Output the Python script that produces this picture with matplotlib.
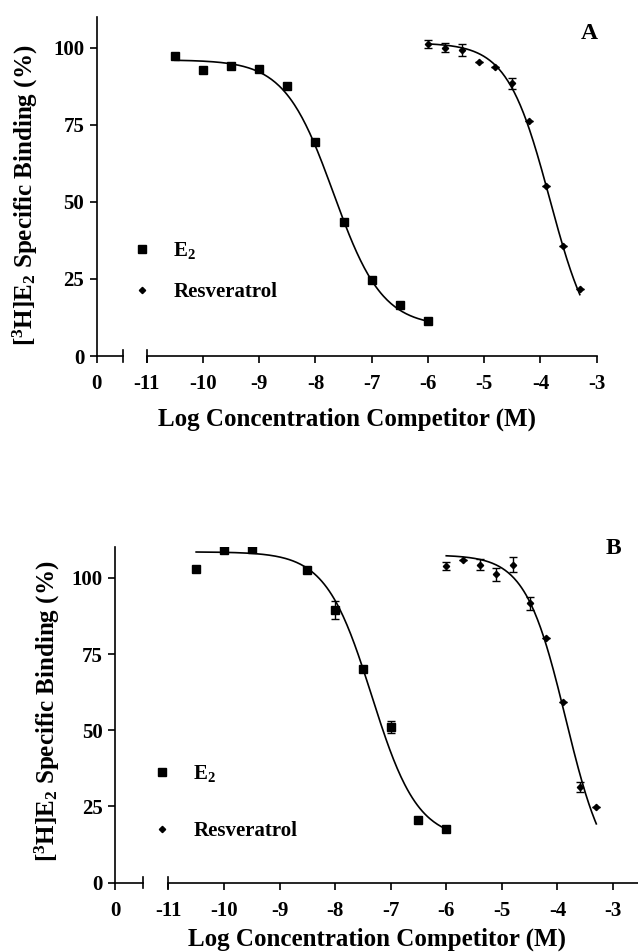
import numpy as np
import matplotlib
matplotlib.use("Agg")
import matplotlib.pyplot as plt

plt.rcParams['font.family'] = ['Liberation Serif', 'DejaVu Serif']
plt.rcParams['font.weight'] = 'bold'
plt.rcParams['mathtext.fontset'] = 'custom'
plt.rcParams['mathtext.rm'] = 'Liberation Serif:bold'
plt.rcParams['mathtext.it'] = 'Liberation Serif:bold'
plt.rcParams['mathtext.bf'] = 'Liberation Serif:bold'

# ---- panel A data (log M, % specific binding) ----
a_e2_x = [-10.5, -10, -9.5, -9, -8.5, -8, -7.5, -7, -6.5, -6]
a_e2_y = [97.4, 92.8, 94.0, 93.1, 87.4, 69.3, 43.6, 24.7, 16.5, 11.4]
a_res_x = [-6, -5.7, -5.4, -5.1, -4.8, -4.5, -4.2, -3.9, -3.6, -3.3]
a_res_y = [101.1, 100.0, 99.3, 95.2, 93.8, 88.4, 76.3, 55.2, 35.5, 21.8]
a_res_err = [1.2, 1.5, 2.0, 0, 0, 1.7, 0, 0, 0, 0]
# fitted curve params: top, bottom, logIC50, hill
a_e2_fit = (96.0, 9.5, -7.68, 1.0)
a_res_fit = (101.5, 0.0, -3.833, 1.15)

# ---- panel B data ----
b_e2_x = [-10.5, -10, -9.5, -8.5, -8, -7.5, -7, -6.5, -6]
b_e2_y = [103.0, 109.0, 109.6, 102.5, 89.4, 70.2, 51.1, 20.6, 17.5]
b_e2_err = [0, 0, 0, 0, 2.9, 0, 2.0, 0, 0]
b_res_x = [-6, -5.7, -5.4, -5.1, -4.8, -4.5, -4.2, -3.9, -3.6, -3.3]
b_res_y = [103.8, 105.8, 104.3, 101.1, 104.3, 91.6, 80.3, 59.2, 31.4, 24.8]
b_res_err = [1.4, 0, 1.9, 2.2, 2.5, 2.1, 0, 0, 1.5, 0]
b_e2_fit = (108.5, 14.0, -7.34, 1.05)
b_res_fit = (107.5, 0.0, -3.85, 1.2)

xtick_vals = [-11, -10, -9, -8, -7, -6, -5, -4, -3]
ytick_vals = [0, 25, 50, 75, 100]


def logistic(x, p):
    top, bottom, c, h = p
    return bottom + (top - bottom) / (1 + 10 ** ((x - c) * h))


def draw_panel(ax, e2x, e2y, e2err, rx, ry, rerr, e2fit, rfit,
               x0, xbreak, xright, letter, letter_xy, leg_anchor,
               leg_spacing, xlabelpad, ylabel_xy):
    lw = 1.2
    xs = np.linspace(min(e2x), max(e2x), 200)
    ax.plot(xs, logistic(xs, e2fit), color='black', lw=lw)
    xs = np.linspace(min(rx), max(rx), 200)
    ax.plot(xs, logistic(xs, rfit), color='black', lw=lw)

    ax.errorbar(e2x, e2y, yerr=e2err, fmt='s', color='black', ms=5.5,
                capsize=3, elinewidth=1.0, capthick=1.0, label='E$_2$')
    ax.errorbar(rx, ry, yerr=rerr, fmt='D', color='black', ms=3.2,
                capsize=3, elinewidth=1.0, capthick=1.0, label='Resveratrol')

    ax.set_xlim(x0, xright)
    ax.set_ylim(0, 110)
    for s in ['top', 'right', 'bottom']:
        ax.spines[s].set_visible(False)
    ax.spines['left'].set_linewidth(lw)

    # broken x axis
    ax.plot([x0, xbreak], [0, 0], color='black', lw=lw, clip_on=False)
    ax.plot([-11, xright], [0, 0], color='black', lw=lw, clip_on=False)
    for xb in [xbreak, -11]:
        ax.plot([xb, xb], [-1.8, 1.8], color='black', lw=lw, clip_on=False)

    ax.set_xticks([x0] + xtick_vals)
    ax.set_xticklabels(['0'] + [str(v) for v in xtick_vals])
    ax.set_yticks(ytick_vals)
    ax.tick_params(direction='out', length=5, width=lw, labelsize=15)
    ax.tick_params(axis='x', pad=8)
    ax.tick_params(axis='y', pad=4)

    ax.set_xlabel('Log Concentration Competitor (M)', fontsize=18,
                  fontweight='bold', labelpad=xlabelpad)
    ax.set_ylabel('[$^3$H]E$_2$ Specific Binding (%)', fontsize=18,
                  fontweight='bold')
    ax.yaxis.set_label_coords(*ylabel_xy)
    ax.text(letter_xy[0], letter_xy[1], letter, fontsize=17,
            fontweight='bold', ha='center', va='center')

    handles, labels = ax.get_legend_handles_labels()
    handles = [h[0] for h in handles]
    ax.legend(handles, labels, loc='center left', bbox_to_anchor=leg_anchor,
              frameon=False, handlelength=1.0, handletextpad=1.0,
              labelspacing=leg_spacing, borderpad=0, borderaxespad=0,
              prop={'size': 15, 'weight': 'bold'})


fig = plt.figure(figsize=(6.38, 9.52), dpi=100)
ax_a = fig.add_axes([96.7 / 638, 1 - 356 / 952, 500 / 638, 339.3 / 952])
ax_b = fig.add_axes([115 / 638, 1 - 882.7 / 952, 523 / 638, 335.4 / 952])

draw_panel(ax_a, a_e2_x, a_e2_y, None, a_res_x, a_res_y, a_res_err,
           a_e2_fit, a_res_fit, -11.89, -11.43, -3.0, 'A', (-3.13, 104.7),
           (0.07, 0.25), 1.0, 10, (-0.113, 0.4745))
draw_panel(ax_b, b_e2_x, b_e2_y, b_e2_err, b_res_x, b_res_y, b_res_err,
           b_e2_fit, b_res_fit, -11.96, -11.46, -2.55, 'B', (-3.0, 109.6),
           (0.07, 0.24), 1.75, 5, (-0.102, 0.51))

fig.savefig('out.png', dpi=100)
